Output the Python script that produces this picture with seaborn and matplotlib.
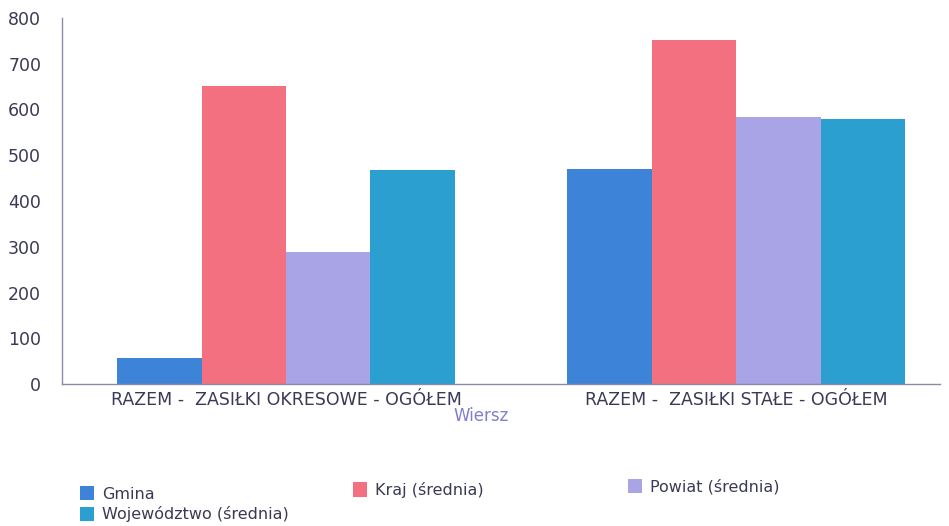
import matplotlib
matplotlib.use("Agg")
import matplotlib.pyplot as plt
import seaborn as sns
import pandas as pd

categories = ["RAZEM -  ZASIŁKI OKRESOWE - OGÓŁEM", "RAZEM -  ZASIŁKI STAŁE - OGÓŁEM"]
series = ["Gmina", "Kraj (średnia)", "Powiat (średnia)", "Województwo (średnia)"]
gmina = [57, 470]
kraj = [652, 752]
powiat = [289, 584]
wojewodztwo = [468, 579]
yticks = [0, 100, 200, 300, 400, 500, 600, 700, 800]
colors = ["#3d84d8", "#f2707f", "#a9a4e6", "#2b9fd0"]

rows = []
for s, vals in zip(series, [gmina, kraj, powiat, wojewodztwo]):
    for c, v in zip(categories, vals):
        rows.append({"Wiersz": c, "Seria": s, "Wartość": v})
df = pd.DataFrame(rows)

sns.set_style("white")
plt.rcParams['font.family'] = ['DejaVu Sans']

fig = plt.figure(figsize=(9.49, 5.26), dpi=100)
W, H = 949, 526
ax = fig.add_axes([62 / W, 1 - 384 / H, 878 / W, 366 / H])

sns.barplot(data=df, x="Wiersz", y="Wartość", hue="Seria", order=categories,
            hue_order=series, palette=colors, width=0.75, linewidth=0,
            saturation=1, ax=ax)

ax.set_xlim(-0.498, 1.453)
ax.set_ylim(0, 800)
ax.set_yticks(yticks)
ax.set_yticklabels([str(t) for t in yticks])
ax.set_ylabel("")
ax.set_xlabel("Wiersz", color="#7f7fd0", fontsize=12)
ax.xaxis.set_label_coords((481 - 62) / 878, -23 / 366)

for side in ["top", "right"]:
    ax.spines[side].set_visible(False)
for side in ["left", "bottom"]:
    ax.spines[side].set_color("#8a8aa8")
    ax.spines[side].set_linewidth(1)

ax.tick_params(axis="x", length=0, pad=5, labelsize=12.5, labelcolor="#3a3a55")
ax.tick_params(axis="y", length=0, pad=15, labelsize=12.5, labelcolor="#3a3a55")

handles, labels = ax.get_legend_handles_labels()
ax.get_legend().remove()

def add_leg(idx, x, y):
    fig.legend([handles[i] for i in idx], [labels[i] for i in idx],
               loc="upper left", bbox_to_anchor=(x / W, 1 - y / H),
               frameon=False, fontsize=11.5, handlelength=0.9, handleheight=1.0,
               handletextpad=0.5, labelspacing=0.3, borderpad=0,
               labelcolor="#3a3a55")

add_leg([0, 3], 72, 478)
add_leg([1], 345, 474)
add_leg([2], 620, 471)

fig.savefig("out.png", dpi=100)
